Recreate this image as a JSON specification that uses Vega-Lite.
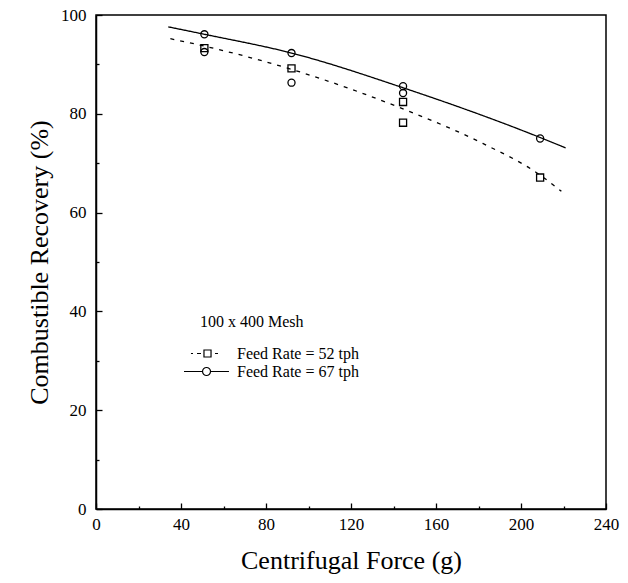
{
  "$schema": "https://vega.github.io/schema/vega-lite/v6.json",
  "width": 510,
  "height": 494,
  "autosize": "none",
  "padding": {"left": 96, "top": 15, "right": 22, "bottom": 74},
  "background": "white",
  "config": {
    "font": "Liberation Serif",
    "view": {"stroke": "black", "strokeWidth": 1.5},
    "axis": {
      "grid": false,
      "domainColor": "black",
      "domainWidth": 1.5,
      "tickColor": "black",
      "tickWidth": 1.3,
      "tickSize": -5,
      "labelColor": "black",
      "labelFont": "Liberation Serif",
      "labelFontSize": 17,
      "titleFont": "Liberation Serif",
      "titleFontSize": 26,
      "titleFontWeight": "normal",
      "titleColor": "black"
    },
    "legend": {
      "titleFont": "Liberation Serif",
      "labelFont": "Liberation Serif"
    }
  },
  "datasets": {
    "points": [
      {"force": 51, "recovery": 93.3, "series": "Feed Rate = 52 tph"},
      {"force": 92, "recovery": 89.2, "series": "Feed Rate = 52 tph"},
      {"force": 144.5, "recovery": 82.4, "series": "Feed Rate = 52 tph"},
      {"force": 144.5, "recovery": 78.2, "series": "Feed Rate = 52 tph"},
      {"force": 209, "recovery": 67.1, "series": "Feed Rate = 52 tph"},
      {"force": 51, "recovery": 96.1, "series": "Feed Rate = 67 tph"},
      {"force": 51, "recovery": 92.5, "series": "Feed Rate = 67 tph"},
      {"force": 92, "recovery": 92.3, "series": "Feed Rate = 67 tph"},
      {"force": 92, "recovery": 86.3, "series": "Feed Rate = 67 tph"},
      {"force": 144.5, "recovery": 85.6, "series": "Feed Rate = 67 tph"},
      {"force": 144.5, "recovery": 84.2, "series": "Feed Rate = 67 tph"},
      {"force": 209, "recovery": 75.0, "series": "Feed Rate = 67 tph"}
    ],
    "fits": [
      {"force": 35, "recovery": 95.2, "series": "Feed Rate = 52 tph"},
      {"force": 51, "recovery": 93.7, "series": "Feed Rate = 52 tph"},
      {"force": 92, "recovery": 89.0, "series": "Feed Rate = 52 tph"},
      {"force": 145, "recovery": 80.9, "series": "Feed Rate = 52 tph"},
      {"force": 182, "recovery": 74.0, "series": "Feed Rate = 52 tph"},
      {"force": 209, "recovery": 67.6, "series": "Feed Rate = 52 tph"},
      {"force": 219, "recovery": 64.3, "series": "Feed Rate = 52 tph"},
      {"force": 34, "recovery": 97.6, "series": "Feed Rate = 67 tph"},
      {"force": 51, "recovery": 96.1, "series": "Feed Rate = 67 tph"},
      {"force": 92, "recovery": 92.3, "series": "Feed Rate = 67 tph"},
      {"force": 145, "recovery": 85.2, "series": "Feed Rate = 67 tph"},
      {"force": 209, "recovery": 75.2, "series": "Feed Rate = 67 tph"},
      {"force": 221, "recovery": 73.1, "series": "Feed Rate = 67 tph"}
    ]
  },
  "encoding": {
    "x": {
      "field": "force",
      "type": "quantitative",
      "scale": {"domain": [0, 240], "nice": false},
      "axis": {
        "title": "Centrifugal Force (g)",
        "values": [0, 20, 40, 60, 80, 100, 120, 140, 160, 180, 200, 220, 240],
        "labelExpr": "datum.value % 40 === 0 ? datum.label : ''",
        "tickSize": {"condition": {"test": "datum.value % 40 === 0", "value": -6}, "value": -3},
        "labelPadding": 13,
        "titlePadding": 15,
        "labelFlush": false
      }
    },
    "y": {
      "field": "recovery",
      "type": "quantitative",
      "scale": {"domain": [0, 100], "nice": false},
      "axis": {
        "title": "Combustible Recovery (%)",
        "values": [0, 10, 20, 30, 40, 50, 60, 70, 80, 90, 100],
        "labelExpr": "datum.value % 20 === 0 ? datum.label : ''",
        "tickSize": {"condition": {"test": "datum.value % 20 === 0", "value": -6}, "value": -3},
        "labelPadding": 16,
        "titlePadding": 8,
        "labelFlush": false
      }
    }
  },
  "resolve": {"scale": {"shape": "independent"}},
  "layer": [
    {
      "data": {"name": "fits"},
      "mark": {"type": "line", "color": "black", "strokeWidth": 1.3, "interpolate": "monotone"},
      "encoding": {
        "strokeDash": {
          "field": "series",
          "type": "nominal",
          "scale": {"domain": ["Feed Rate = 67 tph", "Feed Rate = 52 tph"], "range": [[1, 0], [4, 6]]},
          "legend": null
        }
      }
    },
    {
      "data": {"name": "points"},
      "mark": {"type": "point", "filled": false, "color": "black", "size": 50, "strokeWidth": 1.3, "opacity": 1},
      "encoding": {
        "shape": {
          "field": "series",
          "type": "nominal",
          "scale": {"domain": ["Feed Rate = 52 tph", "Feed Rate = 67 tph"], "range": ["square", "circle"]},
          "legend": null
        }
      }
    },
    {
      "data": {"name": "fits"},
      "mark": {"type": "point", "filled": false, "color": "black", "size": 0, "opacity": 0, "strokeWidth": 1.2},
      "encoding": {
        "shape": {
          "field": "series",
          "type": "nominal",
          "scale": {
            "domain": ["Feed Rate = 52 tph", "Feed Rate = 67 tph"],
            "range": [
              "M-2.18,0L-1.94,0M-1.47,0L-1,0M-0.65,-0.41L0.18,-0.41L0.18,0.41L-0.65,0.41ZM0.65,0L1,0",
              "M-3,0L-0.82,0M0.12,0L2.29,0M-0.82,0A0.47,0.47 0 1,0 0.12,0A0.47,0.47 0 1,0 -0.82,0"
            ]
          },
          "legend": {
            "title": "100 x 400 Mesh",
            "orient": "none",
            "legendX": 104,
            "legendY": 299,
            "padding": 0,
            "titleFontSize": 16,
            "titleFontWeight": "normal",
            "titleColor": "black",
            "titlePadding": 14,
            "labelFontSize": 16,
            "labelColor": "black",
            "labelOffset": 18,
            "symbolSize": 289,
            "symbolOpacity": 1,
            "symbolStrokeColor": "black",
            "symbolStrokeWidth": 1.2,
            "symbolFillColor": "transparent",
            "rowPadding": -7
          }
        }
      }
    }
  ]
}
